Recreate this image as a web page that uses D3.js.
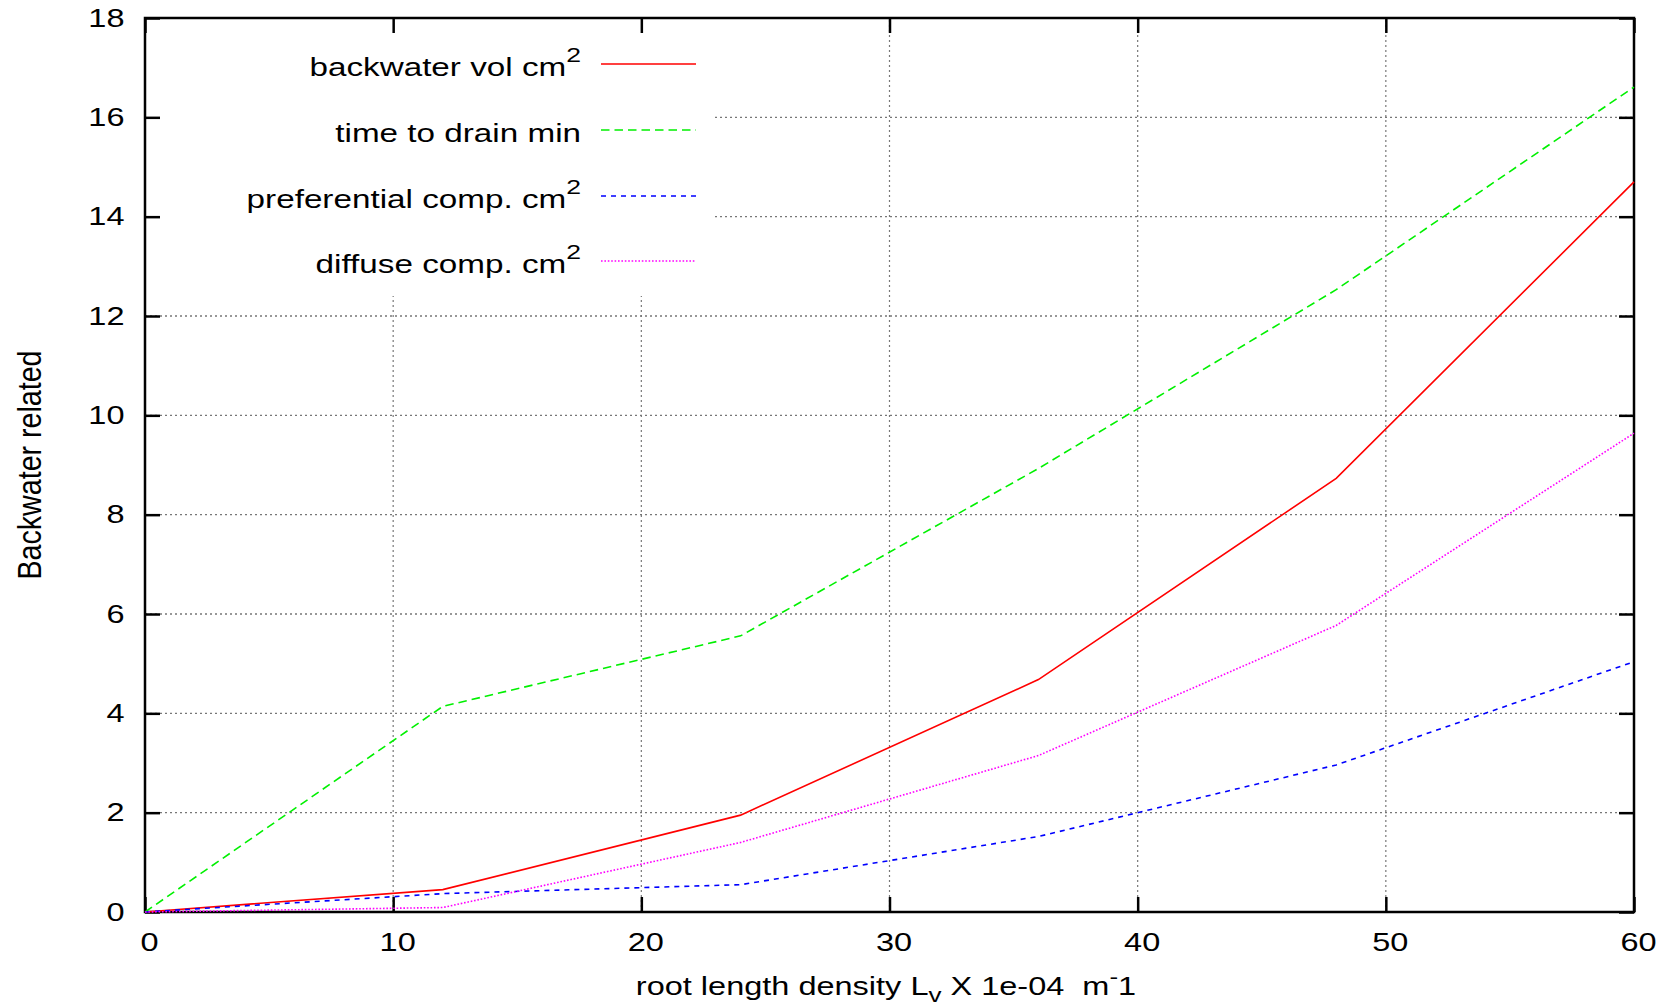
<!DOCTYPE html>
<html>
<head>
<meta charset="utf-8">
<script src="https://cdn.jsdelivr.net/npm/d3@7"></script>
<style>
  body { margin: 0; background: #fff; }
  text { font-family: 'Liberation Sans', Arial, sans-serif; white-space: pre; }
</style>
</head>
<body>
<div id="chart"></div>
<script>
const width = 1671;
const height = 1006;
const margin = { top: 18, right: 37, bottom: 94, left: 145 };
// the original plot is stretched sideways, so text gets widened too
const SX = 1.3;

const xValues = [0, 12, 24, 36, 48, 60];
const backwaterVol = [0, 0.45, 1.95, 4.68, 8.73, 14.70];
const timeToDrain = [0, 4.14, 5.56, 8.93, 12.53, 16.61];
const preferential = [0, 0.37, 0.55, 1.52, 2.96, 5.04];
const diffuse = [0, 0.09, 1.40, 3.15, 5.77, 9.64];

const xTicks = [0, 10, 20, 30, 40, 50, 60];
const yTicks = [0, 2, 4, 6, 8, 10, 12, 14, 16, 18];

const series = [
  { name: 'backwater vol cm', sup: '2', values: backwaterVol, color: '#ff0000', dash: null },
  { name: 'time to drain min', sup: '', values: timeToDrain, color: '#00f000', dash: '8.5,5' },
  { name: 'preferential comp. cm', sup: '2', values: preferential, color: '#0000ff', dash: '5,5' },
  { name: 'diffuse comp. cm', sup: '2', values: diffuse, color: '#ff00ff', dash: '1.6,1.8' },
];

const svg = d3.select('#chart')
  .append('svg')
  .attr('width', width)
  .attr('height', height);

const xScale = d3.scaleLinear()
  .domain([0, 60])
  .range([margin.left, width - margin.right]);

const yScale = d3.scaleLinear()
  .domain([0, 18])
  .range([height - margin.bottom, margin.top]);

const x0 = xScale(0);
const x1 = xScale(60);
const y0 = yScale(0);
const y1 = yScale(18);

// grid
const grid = svg.append('g');
grid.selectAll('.hgrid')
  .data(yTicks.filter((d) => d > 0 && d < 18))
  .enter()
  .append('line')
  .attr('x1', x0)
  .attr('x2', x1)
  .attr('y1', (d) => yScale(d))
  .attr('y2', (d) => yScale(d))
  .attr('stroke', '#777')
  .attr('stroke-width', 1.3)
  .attr('stroke-dasharray', '2,3');
grid.selectAll('.vgrid')
  .data(xTicks.filter((d) => d > 0 && d < 60))
  .enter()
  .append('line')
  .attr('x1', (d) => xScale(d))
  .attr('x2', (d) => xScale(d))
  .attr('y1', y0)
  .attr('y2', y1)
  .attr('stroke', '#777')
  .attr('stroke-width', 1.2)
  .attr('stroke-dasharray', '2,3');

// legend box hides grid behind it
svg.append('rect')
  .attr('x', x0 + 1)
  .attr('y', y1 + 1)
  .attr('width', 568)
  .attr('height', 277)
  .attr('fill', '#fff');

// axes with inward ticks
const tickLen = 15;
const axisStyle = (g) => {
  g.select('.domain').remove();
  g.selectAll('.tick line').attr('stroke', '#000').attr('stroke-width', 2.5);
  g.selectAll('.tick text')
    .attr('fill', '#000')
    .attr('transform', `scale(${SX} 1)`)
    .style('font-size', '25px');
};

svg.append('g')
  .attr('transform', `translate(0 ${y0})`)
  .call(d3.axisBottom(xScale).tickValues(xTicks).tickSize(-tickLen).tickPadding(21.5))
  .call(axisStyle)
  .selectAll('.tick text')
  .attr('x', 4 / SX);
svg.append('g')
  .attr('transform', `translate(0 ${y1})`)
  .call(d3.axisTop(xScale).tickValues(xTicks).tickSize(-tickLen).tickFormat(''))
  .call(axisStyle);
svg.append('g')
  .attr('transform', `translate(${x0} 0)`)
  .call(d3.axisLeft(yScale).tickValues(yTicks).tickSize(-tickLen).tickPadding(20.5 / SX))
  .call(axisStyle);
svg.append('g')
  .attr('transform', `translate(${x1} 0)`)
  .call(d3.axisRight(yScale).tickValues(yTicks).tickSize(-tickLen).tickFormat(''))
  .call(axisStyle);

// border
svg.append('rect')
  .attr('x', x0)
  .attr('y', y1)
  .attr('width', x1 - x0)
  .attr('height', y0 - y1)
  .attr('fill', 'none')
  .attr('stroke', '#000')
  .attr('stroke-width', 2.5);

// data lines
const line = d3.line()
  .x((d, i) => xScale(xValues[i]))
  .y((d) => yScale(d));

svg.append('g')
  .selectAll('path')
  .data(series)
  .enter()
  .append('path')
  .attr('d', (s) => line(s.values))
  .attr('fill', 'none')
  .attr('stroke', (s) => s.color)
  .attr('stroke-width', 1.6)
  .attr('stroke-dasharray', (s) => s.dash);

// legend
const legendRows = [64, 130, 196, 261];
const legend = svg.append('g');
series.forEach((s, i) => {
  const y = legendRows[i];
  const t = legend.append('g')
    .attr('transform', `translate(581 ${y + 12}) scale(1.33 1)`)
    .append('text')
    .attr('text-anchor', 'end')
    .style('font-size', '25px');
  t.append('tspan').text(s.name);
  if (s.sup) {
    t.append('tspan')
      .attr('dy', -14)
      .style('font-size', '20px')
      .text(s.sup);
  }
  legend.append('line')
    .attr('x1', 601)
    .attr('x2', 696)
    .attr('y1', y)
    .attr('y2', y)
    .attr('stroke', s.color)
    .attr('stroke-width', 1.6)
    .attr('stroke-dasharray', s.dash);
});

// x axis title
const xTitle = svg.append('g')
  .attr('transform', `translate(886 995) scale(${SX} 1)`)
  .append('text')
  .attr('text-anchor', 'middle')
  .style('font-size', '25px');
xTitle.append('tspan').text('root length density L');
xTitle.append('tspan').attr('dy', 7).style('font-size', '20px').text('v');
xTitle.append('tspan').attr('dy', -7).text(' X 1e-04  m');
xTitle.append('tspan').attr('dy', -11).style('font-size', '20px').text('-');
xTitle.append('tspan').attr('dy', 11).text('1');

// y axis title
svg.append('g')
  .attr('transform', `translate(41 ${(y0 + y1) / 2}) scale(1.25 1) rotate(-90)`)
  .append('text')
  .attr('text-anchor', 'middle')
  .attr('textLength', 229)
  .attr('lengthAdjust', 'spacingAndGlyphs')
  .style('font-size', '27px')
  .text('Backwater related');
</script>
</body>
</html>
